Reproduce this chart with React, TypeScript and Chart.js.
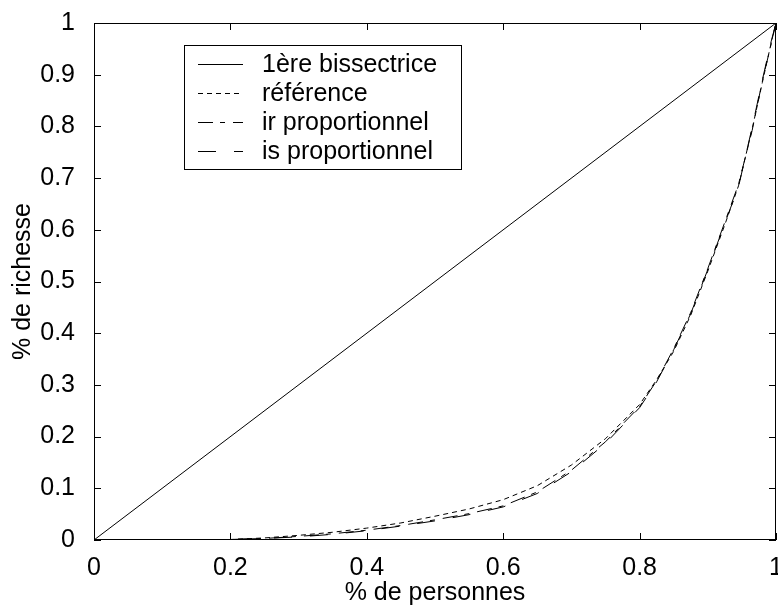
import React, { useEffect, useRef } from "react";
import { Chart, registerables } from "chart.js";

Chart.register(...registerables);

// ---- data ----
const xPersonnes = [0, 0.17, 0.2, 0.25, 0.3, 0.35, 0.4, 0.45, 0.5, 0.55, 0.6, 0.65, 0.7, 0.75, 0.8, 0.825, 0.85, 0.875, 0.9, 0.925, 0.945, 0.965, 0.98, 0.993, 1];
const bissectriceX = [0, 1];
const bissectriceY = [0, 1];
const reference = [0, 0, 0.001, 0.004, 0.009, 0.015, 0.023, 0.033, 0.046, 0.06, 0.078, 0.105, 0.145, 0.196, 0.262, 0.31, 0.365, 0.435, 0.52, 0.61, 0.685, 0.795, 0.885, 0.962, 1];
const irProportionnel = [0, 0, 0.001, 0.003, 0.007, 0.012, 0.019, 0.028, 0.039, 0.051, 0.066, 0.093, 0.135, 0.19, 0.258, 0.308, 0.37, 0.44, 0.525, 0.615, 0.688, 0.792, 0.888, 0.96, 1];
const isProportionnel = [0, 0, 0.001, 0.003, 0.006, 0.011, 0.018, 0.027, 0.037, 0.049, 0.064, 0.09, 0.132, 0.187, 0.256, 0.306, 0.368, 0.438, 0.523, 0.613, 0.683, 0.798, 0.89, 0.965, 1];
const seriesLabels = ["1ère bissectrice", "référence", "ir proportionnel", "is proportionnel"];
const xTicks = [0, 0.2, 0.4, 0.6, 0.8, 1];
const yTicks = [0, 0.1, 0.2, 0.3, 0.4, 0.5, 0.6, 0.7, 0.8, 0.9, 1];
const xTitle = "% de personnes";
const yTitle = "% de richesse";

const FONT_FAMILY = "'Liberation Sans', Arial, sans-serif";
const FONT_SIZE = 25;

const fmt = (v: number) => String(Number(v.toFixed(2)));

const framePlugin = {
  id: "frame",
  afterDatasetsDraw(chart: any) {
    const { ctx, chartArea: a, scales } = chart;
    ctx.save();
    ctx.strokeStyle = "#000";
    ctx.lineWidth = 1;
    ctx.setLineDash([]);
    ctx.strokeRect(a.left + 0.5, a.top + 0.5, a.right - a.left - 1, a.bottom - a.top - 1);
    const L = 7;
    ctx.beginPath();
    xTicks.forEach((v) => {
      const px = Math.round(scales.x.getPixelForValue(v)) + 0.5;
      ctx.moveTo(px, a.bottom);
      ctx.lineTo(px, a.bottom - L);
      ctx.moveTo(px, a.top);
      ctx.lineTo(px, a.top + L);
    });
    yTicks.forEach((v) => {
      const py = Math.round(scales.y.getPixelForValue(v)) + 0.5;
      ctx.moveTo(a.left, py);
      ctx.lineTo(a.left + L, py);
      ctx.moveTo(a.right, py);
      ctx.lineTo(a.right - L, py);
    });
    ctx.stroke();

    // legend box
    const bx = 184, by = 45, bw = 277, bh = 124;
    ctx.fillStyle = "#fff";
    ctx.fillRect(bx, by, bw, bh);
    ctx.strokeRect(bx + 0.5, by + 0.5, bw, bh);
    ctx.font = `${FONT_SIZE}px ${FONT_FAMILY}`;
    ctx.textBaseline = "middle";
    ctx.textAlign = "left";
    chart.data.datasets.forEach((ds: any, i: number) => {
      const ry = Math.round(by + 18.5 + i * 29.3) + 0.5;
      ctx.setLineDash(ds.borderDash || []);
      ctx.beginPath();
      ctx.moveTo(198, ry);
      ctx.lineTo(243, ry);
      ctx.stroke();
      ctx.setLineDash([]);
      ctx.fillStyle = "#000";
      ctx.fillText(ds.label, 262, ry + 1);
    });
    ctx.restore();
  },
};

export default function App() {
  const ref = useRef<HTMLCanvasElement>(null);
  useEffect(() => {
    const canvas = ref.current;
    if (!canvas) return;
    const toPts = (xs: number[], ys: number[]) => xs.map((x, i) => ({ x, y: ys[i] }));
    const chart = new Chart(canvas, {
      type: "scatter",
      data: {
        datasets: [
          { label: seriesLabels[0], data: toPts(bissectriceX, bissectriceY), borderDash: [] },
          { label: seriesLabels[1], data: toPts(xPersonnes, reference), borderDash: [5, 4] },
          { label: seriesLabels[2], data: toPts(xPersonnes, irProportionnel), borderDash: [15, 7, 5, 8] },
          { label: seriesLabels[3], data: toPts(xPersonnes, isProportionnel), borderDash: [18, 18] },
        ].map((d) => ({
          ...d,
          showLine: true,
          borderColor: "#000",
          backgroundColor: "#000",
          borderWidth: 1,
          pointRadius: 0,
          pointHoverRadius: 0,
          tension: 0,
          fill: false,
        })),
      },
      options: {
        animation: false,
        responsive: false,
        maintainAspectRatio: false,
        events: [],
        layout: { padding: { top: 23, right: 2, left: 0, bottom: 0 } },
        plugins: { legend: { display: false }, tooltip: { enabled: false }, title: { display: false } },
        scales: {
          x: {
            type: "linear",
            min: 0,
            max: 1,
            grid: { display: false },
            border: { display: false },
            afterBuildTicks: (s: any) => {
              s.ticks = xTicks.map((v) => ({ value: v }));
            },
            afterFit: (s: any) => {
              s.height = 66;
              s.paddingLeft = 0;
              s.paddingRight = 0;
            },
            ticks: {
              color: "#000",
              padding: 5,
              maxRotation: 0,
              autoSkip: false,
              font: { family: FONT_FAMILY, size: FONT_SIZE },
              callback: (v: any) => fmt(Number(v)),
            },
            title: {
              display: true,
              text: xTitle,
              color: "#000",
              padding: { top: 0, bottom: 0 },
              font: { family: FONT_FAMILY, size: FONT_SIZE, lineHeight: 1.0 },
            },
          },
          y: {
            type: "linear",
            min: 0,
            max: 1,
            grid: { display: false },
            border: { display: false },
            afterBuildTicks: (s: any) => {
              s.ticks = yTicks.map((v) => ({ value: v }));
            },
            afterFit: (s: any) => {
              s.width = 94;
              s.paddingTop = 0;
              s.paddingBottom = 0;
            },
            ticks: {
              color: "#000",
              padding: 11,
              autoSkip: false,
              font: { family: FONT_FAMILY, size: FONT_SIZE },
              callback: (v: any) => fmt(Number(v)),
            },
            title: {
              display: true,
              text: yTitle,
              color: "#000",
              padding: { top: 8, bottom: 0 },
              font: { family: FONT_FAMILY, size: FONT_SIZE },
            },
          },
        },
      },
      plugins: [framePlugin],
    } as any);
    return () => chart.destroy();
  }, []);
  return (
    <div style={{ position: "fixed", left: 0, top: 0, width: 778, height: 606, background: "#fff" }}>
      <canvas ref={ref} width={778} height={606} style={{ display: "block" }} />
    </div>
  );
}
